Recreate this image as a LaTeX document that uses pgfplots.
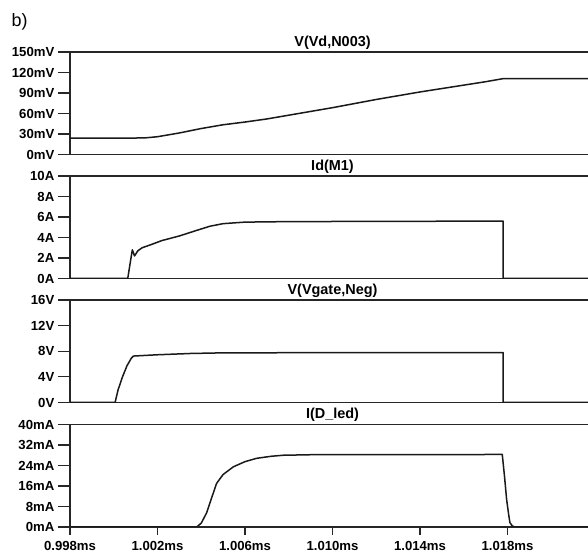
\documentclass[border=0pt]{standalone}
\usepackage{fontspec}
\setmainfont{Liberation Sans}
\usepackage{pgfplots}
\pgfplotsset{compat=1.18}
\newcommand{\tfont}{\fontsize{13.2}{15}\selectfont\bfseries}
\newcommand{\ttlfont}{\fontsize{14.5}{17}\selectfont\bfseries}
\pgfplotsset{
  panel/.style={
    scale only axis, width=525bp, height=102.5bp,
    xmin=998, xmax=1022,
    axis line style={line width=1.6bp, black!85},
    tick style={line width=1.1bp, black!85},
    tick align=outside, major tick length=12bp, tick pos=left,
    xtick style={/pgfplots/major tick length=8bp},
    yticklabel style={font=\tfont, anchor=east, inner xsep=0pt, xshift=-3.5bp},
    xticklabel style={font=\tfont, anchor=north, inner ysep=0pt, yshift=-2.5bp},
    title style={at={(0.5,1)}, anchor=base, yshift=0bp, font=\ttlfont, inner sep=0pt},
    clip=true,
  },
  crv/.style={black!90, no markers, line width=1.5bp, line join=round},
}
\begin{document}
\begin{tikzpicture}[x=1bp,y=1bp]
\useasboundingbox (0,0) rectangle (588,553);
\node[anchor=base west, inner sep=0pt, font=\fontsize{18}{20}\selectfont] at (11.5,526.5) {b)};

% Panel 1
\begin{axis}[panel, at={(70bp,501bp)}, anchor=north west,
  ymin=0, ymax=150, ytick={0,30,60,90,120,150},
  yticklabels={0mV,30mV,60mV,90mV,120mV,150mV},
  xtick=\empty, title={V(Vd,N003)}]
\addplot[crv] coordinates {
(998,24) (1000.9,24) (1001.5,24.5) (1002,26) (1003,31.5) (1004,38) (1005,43.5)
(1006,47.5) (1007,52) (1008,57.5) (1009,63) (1010,68.5) (1011,74.5) (1012,80.5)
(1013,86) (1014,91.5) (1015,96.5) (1016,101.5) (1017,106.5) (1017.8,111) (1022,111)};
\end{axis}

% Panel 2
\begin{axis}[panel, at={(70bp,377bp)}, anchor=north west,
  ymin=0, ymax=10, ytick={0,2,4,6,8,10},
  yticklabels={0A,2A,4A,6A,8A,10A},
  xtick=\empty, title={Id(M1)}]
\addplot[crv] coordinates {
(998,0) (1000.64,0) (1000.75,1.5) (1000.85,2.8) (1000.95,2.2) (1001.1,2.7)
(1001.3,3.0) (1001.7,3.3) (1002.2,3.7) (1003.0,4.15) (1003.8,4.7) (1004.4,5.1)
(1005.0,5.35) (1006.0,5.5) (1008.0,5.55) (1017.8,5.6) (1017.8,0) (1022,0)};
\end{axis}

% Panel 3
\begin{axis}[panel, at={(70bp,253bp)}, anchor=north west,
  ymin=0, ymax=16, ytick={0,4,8,12,16},
  yticklabels={0V,4V,8V,12V,16V},
  xtick=\empty, title={V(Vgate,Neg)}]
\addplot[crv] coordinates {
(998,0) (1000.06,0) (1000.2,2.0) (1000.4,4.0) (1000.6,5.7) (1000.8,6.9)
(1000.9,7.25) (1002,7.45) (1003.5,7.65) (1005,7.75) (1010,7.78) (1017.8,7.8)
(1017.8,0) (1022,0)};
\end{axis}

% Panel 4
\begin{axis}[panel, at={(70bp,128.5bp)}, anchor=north west,
  ymin=0, ymax=40, ytick={0,8,16,24,32,40},
  yticklabels={0mA,8mA,16mA,24mA,32mA,40mA},
  xtick={998,1002,1006,1010,1014,1018},
  xticklabels={0.998ms,1.002ms,1.006ms,1.010ms,1.014ms,1.018ms},
  title={I(D\_led)}]
\addplot[crv] coordinates {
(998,0) (1003.79,0) (1004.0,1.5) (1004.25,5.6) (1004.5,12) (1004.7,17)
(1005.0,20.5) (1005.47,23.5) (1006.0,25.5) (1006.53,26.8) (1007.2,27.6)
(1007.75,28.0) (1009,28.2) (1017.76,28.3) (1017.86,20) (1017.96,10.7)
(1018.05,5) (1018.11,1.7) (1018.22,0.4) (1018.34,0) (1022,0)};
\end{axis}
\end{tikzpicture}
\end{document}
